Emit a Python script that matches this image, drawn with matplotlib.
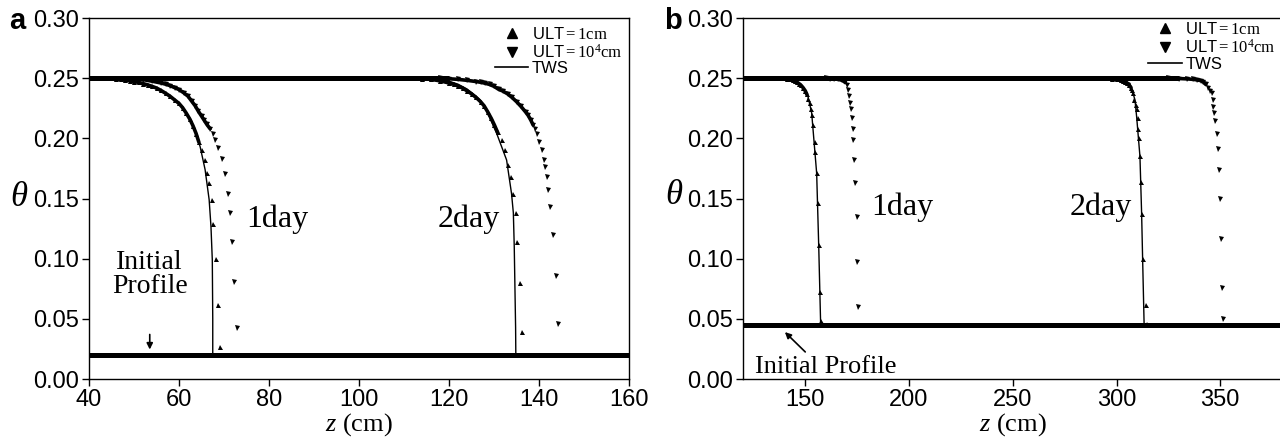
import matplotlib
matplotlib.use("Agg")
import matplotlib.pyplot as plt
from matplotlib.lines import Line2D

plt.rcParams['font.family'] = ['Liberation Sans', 'DejaVu Sans']
plt.rcParams['mathtext.fontset'] = 'custom'
plt.rcParams['mathtext.rm'] = 'Liberation Serif'
plt.rcParams['mathtext.it'] = 'Liberation Serif:italic'

# ---------------- data: panel a ----------------
a_initial_theta = 0.02
a_plateau_theta = 0.25
a_plateau_end = 120

a_tws1_z = [40, 45, 50, 54, 57, 60, 62, 63.2, 64.7, 65.8, 66.7, 67.1, 67.4, 67.5, 67.5]
a_tws1_t = [0.250, 0.2495, 0.247, 0.243, 0.237, 0.229, 0.219, 0.210, 0.193, 0.174, 0.149, 0.127, 0.099, 0.05, 0.02]

a_u1_d1_z = [46, 47, 48, 49, 50, 51, 52, 53, 54, 55, 56, 57, 58, 59, 60, 60.8, 61.6, 62.4, 63.1, 63.8, 64.4,
             65.0, 65.8, 66.2, 66.7, 67.3, 67.6, 68.2, 68.7, 69.1]
a_u1_d1_t = [0.2493, 0.249, 0.2485, 0.248, 0.2472, 0.2465, 0.2455, 0.2445, 0.2432, 0.2418, 0.2398, 0.2375, 0.235,
             0.232, 0.229, 0.2255, 0.221, 0.216, 0.2105, 0.204, 0.197, 0.190, 0.182, 0.171, 0.163, 0.149, 0.129,
             0.100, 0.0615, 0.027]

a_u4_d1_z = [50, 52, 54, 56, 57, 58, 59, 60, 61, 62, 62.8, 63.6, 64.3, 65.0, 65.6, 66.2, 66.9, 67.5, 68.0, 68.7,
             69.5, 70.2, 70.8, 71.3, 71.7, 72.2, 72.8]
a_u4_d1_t = [0.2495, 0.2488, 0.2475, 0.246, 0.245, 0.2438, 0.2422, 0.2405, 0.238, 0.235, 0.231, 0.227, 0.2225,
             0.2185, 0.215, 0.2115, 0.208, 0.204, 0.199, 0.192, 0.183, 0.170, 0.154, 0.138, 0.114, 0.081, 0.042]

a_tws2_z = [40, 110, 115, 118, 120, 122, 124, 126, 126.9, 128.5, 130.6, 132.0, 132.8, 133.9, 134.3, 134.5, 134.8, 134.85]
a_tws2_t = [0.25, 0.25, 0.2495, 0.249, 0.2475, 0.245, 0.241, 0.235, 0.232, 0.222, 0.204, 0.190, 0.182, 0.154,
            0.138, 0.110, 0.043, 0.02]

a_u1_d2_z = [114, 116, 118, 120, 121, 122, 123, 124, 125, 126, 127, 127.8, 128.6, 129.4, 130.1, 130.8, 131.7,
             132.4, 133.2, 133.8, 134.3, 134.8, 135.2, 135.8, 136.2]
a_u1_d2_t = [0.2495, 0.249, 0.2478, 0.246, 0.245, 0.2435, 0.2418, 0.2395, 0.237, 0.234, 0.2305, 0.227, 0.222,
             0.2165, 0.211, 0.205, 0.199, 0.190, 0.178, 0.168, 0.154, 0.138, 0.114, 0.0795, 0.039]

a_u4_d2_z = [118, 120, 122, 124, 126, 127, 128, 129, 130, 131, 132, 133, 134, 135, 136, 137, 137.6, 138.2, 138.7,
             139.1, 139.5, 140.1, 140.6, 141.0, 141.3, 141.7, 142.1, 142.4, 143.0, 143.8, 144.3]
a_u4_d2_t = [0.2498, 0.2495, 0.249, 0.2482, 0.2472, 0.2466, 0.2458, 0.2448, 0.2432, 0.2408, 0.2392, 0.237, 0.234,
             0.2305, 0.2265, 0.222, 0.219, 0.215, 0.211, 0.2075, 0.204, 0.197, 0.190, 0.182, 0.176, 0.168, 0.157,
             0.143, 0.120, 0.086, 0.046]

# ---------------- data: panel b ----------------
b_initial_theta = 0.045
b_plateau_theta = 0.25
b_plateau_end = 330

b_tws1_z = [120, 140, 142.7, 145.5, 148.9, 151.3, 153.1, 155.5, 156.5, 157.4, 157.5]
b_tws1_t = [0.25, 0.25, 0.249, 0.2475, 0.243, 0.235, 0.221, 0.171, 0.110, 0.047, 0.045]

b_u1_d1_z = [140, 141, 142, 143, 144, 145, 146, 147, 148, 149, 150, 150.8, 151.5, 152.2, 152.8, 153.3, 153.8,
             154.5, 154.9, 155.6, 156.0, 156.6, 157.2, 157.6]
b_u1_d1_t = [0.2498, 0.2496, 0.2493, 0.2489, 0.2484, 0.2477, 0.2467, 0.2455, 0.2440, 0.2420, 0.2395, 0.2365,
             0.2330, 0.2290, 0.2245, 0.219, 0.211, 0.197, 0.189, 0.171, 0.146, 0.111, 0.072, 0.048]

b_u4_d1_z = [160, 162, 164, 166, 167.5, 168.5, 169.3, 170.0, 170.5, 171.1, 171.6, 172.0, 172.4, 172.9, 173.2,
             173.7, 174.2, 174.8, 175.1, 175.6]
b_u4_d1_t = [0.2499, 0.2497, 0.2495, 0.249, 0.2483, 0.2475, 0.2465, 0.2445, 0.240, 0.235, 0.229, 0.224, 0.217,
             0.208, 0.199, 0.182, 0.163, 0.135, 0.0975, 0.060]

b_tws2_z = [120, 298, 301.7, 304, 306.5, 308.9, 309.7, 311.3, 312.1, 312.6, 313.3, 313.4]
b_tws2_t = [0.25, 0.25, 0.2497, 0.248, 0.2457, 0.232, 0.218, 0.185, 0.138, 0.099, 0.046, 0.045]

b_u1_d2_z = [296, 298, 300, 301, 302, 303, 304, 305, 306, 307, 307.6, 308.1, 308.6, 309.3, 309.7, 310.2, 310.5,
             311.0, 311.3, 311.8, 312.1, 312.9, 314.0, 314.5]
b_u1_d2_t = [0.2499, 0.2497, 0.2494, 0.2491, 0.2486, 0.2479, 0.2470, 0.2458, 0.2443, 0.2422, 0.2400, 0.2375,
             0.232, 0.228, 0.224, 0.217, 0.208, 0.200, 0.185, 0.164, 0.137, 0.0995, 0.0615, 0.046]

b_u4_d2_z = [325, 330, 334, 337, 339, 340.5, 341.8, 343, 344.3, 345.2, 345.9, 346.4, 346.7, 347.1, 347.5, 348.3,
             348.8, 349.4, 349.9, 350.4, 351.0, 351.5]
b_u4_d2_t = [0.2499, 0.2497, 0.2494, 0.249, 0.2485, 0.248, 0.247, 0.2448, 0.2415, 0.2395, 0.2375, 0.232, 0.226,
             0.221, 0.214, 0.204, 0.191, 0.174, 0.150, 0.116, 0.076, 0.0496]

y_ticks = [0.00, 0.05, 0.10, 0.15, 0.20, 0.25, 0.30]
a_xticks = [40, 60, 80, 100, 120, 140, 160]
b_xticks = [150, 200, 250, 300, 350]

W, H = 1280, 442
fig = plt.figure(figsize=(W / 100, H / 100), dpi=100)
axa = fig.add_axes([89 / W, 63 / H, 540 / W, 361 / H])
axb = fig.add_axes([743 / W, 63 / H, 539.5 / W, 361 / H])

MS = 3.6
BAND = 3.6
serif = 'Liberation Serif'

def style(ax, xlim, xticks):
    ax.set_xlim(*xlim)
    ax.set_ylim(0, 0.30)
    ax.set_xticks(xticks)
    ax.set_yticks(y_ticks)
    ax.set_yticklabels(['%.2f' % v for v in y_ticks])
    ax.tick_params(direction='out', length=5, width=1, labelsize=17, top=False, right=False, pad=2)
    for s in ax.spines.values():
        s.set_linewidth(1.0)
    ax.set_xlabel('$z$ (cm)', fontsize=19, labelpad=0, family=serif)

def marks(ax, z, t, marker, dense):
    # leading part of each series is so tightly packed that its markers merge into a thick curve
    if dense:
        ax.plot(z[:dense], t[:dense], color='k', lw=2.6, solid_joinstyle='round', solid_capstyle='round')
    ax.plot(z, t, ls='none', marker=marker, ms=MS, color='k', mew=0)

def draw(ax, xlim, init_t, plat_t, plat_end, tws, u1, u4):
    ax.plot(list(xlim), [init_t, init_t], color='k', lw=BAND, solid_capstyle='butt')
    ax.plot([xlim[0], plat_end], [plat_t, plat_t], color='k', lw=BAND, solid_capstyle='butt')
    for z, t in tws:
        ax.plot(z, t, color='k', lw=1.0)
    for z, t, d in u1:
        marks(ax, z, t, '^', d)
    for z, t, d in u4:
        marks(ax, z, t, 'v', d)

draw(axa, (40, 160), a_initial_theta, a_plateau_theta, a_plateau_end,
     [(a_tws1_z, a_tws1_t), (a_tws2_z, a_tws2_t)],
     [(a_u1_d1_z, a_u1_d1_t, 21), (a_u1_d2_z, a_u1_d2_t, 16)],
     [(a_u4_d1_z, a_u4_d1_t, 17), (a_u4_d2_z, a_u4_d2_t, 19)])
draw(axb, (120, 380), b_initial_theta, b_plateau_theta, b_plateau_end,
     [(b_tws1_z, b_tws1_t), (b_tws2_z, b_tws2_t)],
     [(b_u1_d1_z, b_u1_d1_t, 12), (b_u1_d2_z, b_u1_d2_t, 10)],
     [(b_u4_d1_z, b_u4_d1_t, 7), (b_u4_d2_z, b_u4_d2_t, 8)])

style(axa, (40, 160), a_xticks)
style(axb, (120, 380), b_xticks)

# annotations panel a
axa.text(75.0, 0.1266, '1day', fontsize=23, family=serif, ha='left', va='baseline')
axa.text(117.4, 0.1266, '2day', fontsize=23, family=serif, ha='left', va='baseline')
axa.text(53.5, 0.087, 'Initial\nProfile', fontsize=20, family=serif, ha='center', va='center', linespacing=0.95)
axa.annotate('', xy=(53.5, 0.0245), xytext=(53.5, 0.037),
             arrowprops=dict(arrowstyle='-|>', color='k', lw=1.2, mutation_scale=9, shrinkA=0, shrinkB=0))
# annotations panel b
axb.text(182.0, 0.1363, '1day', fontsize=23, family=serif, ha='left', va='baseline')
axb.text(277.6, 0.1363, '2day', fontsize=23, family=serif, ha='left', va='baseline')
axb.text(125.8, 0.010, 'Initial Profile', fontsize=19, family=serif, ha='left', va='center')
axb.annotate('', xy=(140.2, 0.039), xytext=(150.0, 0.0225),
             arrowprops=dict(arrowstyle='-|>', color='k', lw=1.2, mutation_scale=9, shrinkA=0, shrinkB=0))

# legends
handles = [Line2D([], [], ls='none', marker='^', ms=7, color='k'),
           Line2D([], [], ls='none', marker='v', ms=7, color='k'),
           Line2D([], [], color='k', lw=1.2)]
labels = ['ULT$\\mathrm{=1cm}$', 'ULT$\\mathrm{=10^4cm}$', 'TWS']
for ax, anchor in ((axa, (1.0, 0.997)), (axb, (1.0, 1.01))):
    ax.legend(handles, labels, loc='upper right', bbox_to_anchor=anchor, frameon=False, fontsize=12,
              handlelength=2.0, handletextpad=0.2, labelspacing=0.05, borderpad=0.2, borderaxespad=0.2)

# axis labels (theta) and panel letters
fig.text(19 / W, 1 - 197 / H, '$\\theta$', fontsize=25, ha='center', va='center')
fig.text(674 / W, 1 - 195 / H, '$\\theta$', fontsize=25, ha='center', va='center')
fig.text(9 / W, 1 - 29 / H, 'a', fontsize=21, fontweight='bold', ha='left', va='baseline')
fig.text(664 / W, 1 - 29 / H, 'b', fontsize=21, fontweight='bold', ha='left', va='baseline')

fig.savefig('out.png', dpi=100)
